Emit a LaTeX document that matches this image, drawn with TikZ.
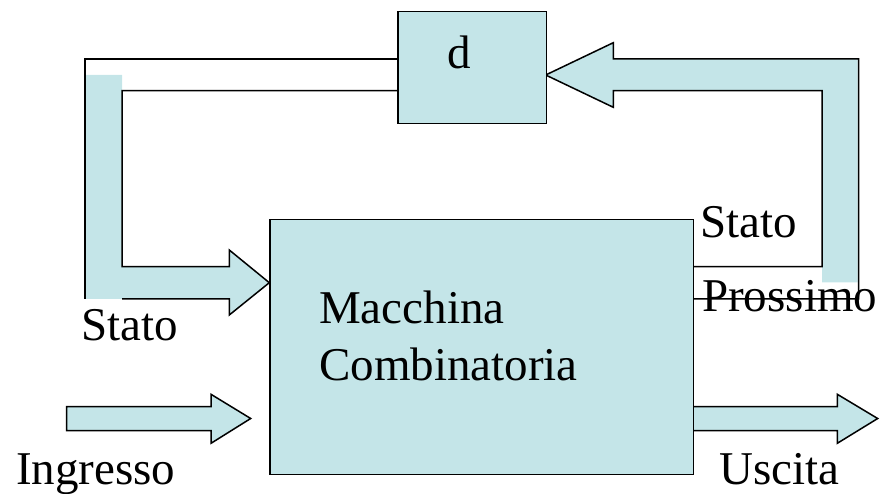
\documentclass[tikz,border=0pt]{standalone}
\usepackage{fontspec}
\setmainfont{Liberation Serif}
\definecolor{boxfill}{RGB}{196,229,232}
\tikzset{
  outl/.style={draw=black, line width=1.5bp, line join=miter},
  fillonly/.style={fill=boxfill, draw=none},
  blockbox/.style={outl, fill=boxfill, inner sep=0pt, anchor=north west},
  lbl/.style={inner sep=0pt, anchor=base west, font=\fontsize{47bp}{56bp}\selectfont},
}
\begin{document}
\begin{tikzpicture}[x=1bp,y=-1bp]
\useasboundingbox (0,0) rectangle (886,494);

% ---- feedback arrow: Stato into the machine (fill, then outline pieces)
\fill[fillonly] (85,75) -- (122,75) -- (122,266.7) -- (229.3,266.7) -- (229.3,250)
  -- (269.3,282.7) -- (229.3,315) -- (229.3,299) -- (85,299) -- cycle;
\draw[outl] (397.3,59) -- (85,59) -- (85,299);
\draw[outl] (122,299) -- (229.3,299) -- (229.3,315) -- (269.3,282.7) -- (229.3,250)
  -- (229.3,266.7) -- (122,266.7) -- (122,90.7) -- (397.3,90.7);

% ---- feedback arrow: Stato Prossimo into d
\fill[fillonly] (613.3,59) -- (857.5,59) -- (857.5,282.5) -- (822,282.5) -- (822,90.7)
  -- (613.3,90.7) -- (613.3,107.3) -- (545.7,75) -- (613.3,42.7) -- cycle;
\draw[outl] (692.7,266.7) -- (822,266.7) -- (822,90.7) -- (613.3,90.7) -- (613.3,107.3)
  -- (545.7,75) -- (613.3,42.7) -- (613.3,59) -- (858.5,59) -- (858.5,298.8) -- (692.7,298.8);

% ---- input and output arrows
\draw[outl, fill=boxfill] (66.7,406.7) -- (211,406.7) -- (211,394.3) -- (250.7,418.5)
  -- (211,443.3) -- (211,430.7) -- (66.7,430.7) -- cycle;
\draw[outl, fill=boxfill] (692.7,406.7) -- (837.3,406.7) -- (837.3,394.3) -- (877.7,418.5)
  -- (837.3,443.3) -- (837.3,430.7) -- (692.7,430.7) -- cycle;

% ---- boxes
\node[blockbox, minimum width=423.4bp, minimum height=254.5bp] (mc) at (269.3,219) {};
\node[blockbox, minimum width=148.4bp, minimum height=111.7bp] (d) at (397.3,11) {};

% ---- texts
\node[lbl] (dtxt) at (447,68.3) {d};
\node[lbl] (mc1) at (319,323.3) {Macchina};
\node[lbl] (mc2) at (319,380.7) {Combinatoria};
\node[lbl] (stin) at (81,341) {Stato};
\node[lbl] (stout) at (700,237.5) {Stato};
\node[lbl] (pross) at (702,312) {Prossimo};
\node[lbl] (ingr) at (16,484) {Ingresso};
\node[lbl] (usc) at (719,484) {Uscita};
\end{tikzpicture}
\end{document}
